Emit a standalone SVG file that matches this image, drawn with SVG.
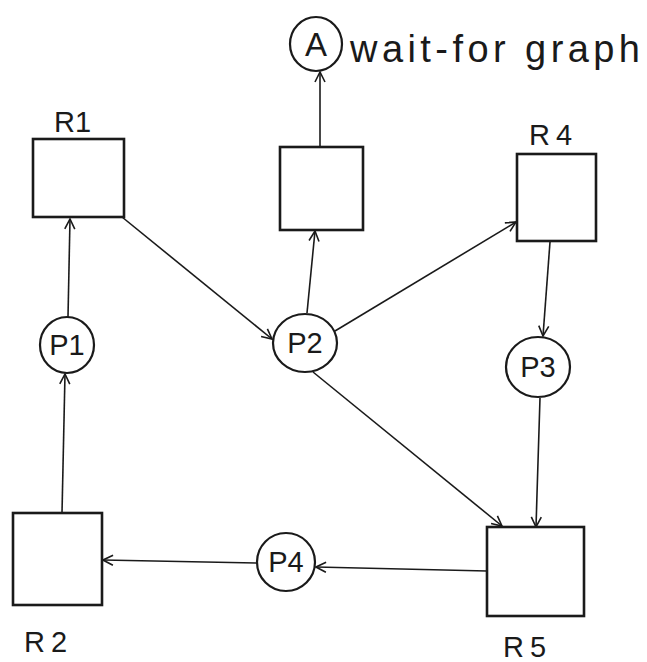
<svg xmlns="http://www.w3.org/2000/svg" width="647" height="662" viewBox="0 0 647 662">
  <style>
    .res { fill: none; stroke: #1a1a1a; stroke-width: 2.6; }
    .proc { fill: none; stroke: #1a1a1a; stroke-width: 2.2; }
    .edge { fill: none; stroke: #1a1a1a; stroke-width: 1.6; marker-end: url(#head); }
    .lbl { font-family: "Liberation Sans", "DejaVu Sans", sans-serif; font-size: 29px; fill: #1a1a1a; }
    .rl { letter-spacing: 6px; }
    .mid { text-anchor: middle; }
  </style>
  <defs>
    <marker id="head" viewBox="0 0 12 12" refX="11" refY="6" markerWidth="12" markerHeight="12" markerUnits="userSpaceOnUse" orient="auto">
      <path d="M1,1 L11,6 L1,11" fill="none" stroke="#1a1a1a" stroke-width="1.6"/>
    </marker>
  </defs>
  <rect width="647" height="662" fill="#ffffff"/>

  <!-- connectors -->
  <g id="edges">
    <line class="edge" x1="62" y1="513" x2="65" y2="374"/>
    <line class="edge" x1="68" y1="317" x2="70" y2="219"/>
    <line class="edge" x1="122" y1="217" x2="272" y2="339"/>
    <line class="edge" x1="307" y1="313" x2="315" y2="231"/>
    <line class="edge" x1="320" y1="147" x2="320" y2="72"/>
    <line class="edge" x1="335" y1="331" x2="516" y2="222"/>
    <line class="edge" x1="550" y1="242" x2="543" y2="336"/>
    <line class="edge" x1="540" y1="398" x2="536" y2="527"/>
    <line class="edge" x1="313" y1="372" x2="502" y2="526"/>
    <line class="edge" x1="487" y1="571" x2="316" y2="567"/>
    <line class="edge" x1="257" y1="563" x2="103" y2="560"/>
  </g>

  <!-- resources -->
  <g id="R1">
    <rect class="res" x="33" y="139" width="91" height="78"/>
    <text class="lbl" x="54" y="132">R1</text>
  </g>
  <g id="Rmid">
    <rect class="res" x="280" y="147" width="83" height="83"/>
  </g>
  <g id="R4">
    <rect class="res" x="517" y="154" width="79" height="87"/>
    <text class="lbl rl" x="529" y="145">R4</text>
  </g>
  <g id="R2">
    <rect class="res" x="13" y="513" width="89" height="92"/>
    <text class="lbl rl" x="24" y="652">R2</text>
  </g>
  <g id="R5">
    <rect class="res" x="487" y="527" width="97" height="89"/>
    <text class="lbl rl" x="503" y="657">R5</text>
  </g>

  <!-- processes -->
  <g id="A">
    <ellipse class="proc" cx="316" cy="44" rx="26" ry="27"/>
    <text class="lbl mid" x="316" y="56" style="font-size:33px">A</text>
    <text class="lbl" x="350" y="62" style="font-size:38px" textLength="290" lengthAdjust="spacing">wait-for graph</text>
  </g>
  <g id="P1">
    <ellipse class="proc" cx="67" cy="345" rx="27" ry="28"/>
    <text class="lbl mid" x="67" y="355">P1</text>
  </g>
  <g id="P2">
    <ellipse class="proc" cx="305" cy="343" rx="32" ry="29"/>
    <text class="lbl mid" x="305" y="353">P2</text>
  </g>
  <g id="P3">
    <ellipse class="proc" cx="538" cy="367" rx="32" ry="30"/>
    <text class="lbl mid" x="538" y="377">P3</text>
  </g>
  <g id="P4">
    <ellipse class="proc" cx="286" cy="562" rx="29" ry="29"/>
    <text class="lbl mid" x="286" y="572">P4</text>
  </g>
</svg>
